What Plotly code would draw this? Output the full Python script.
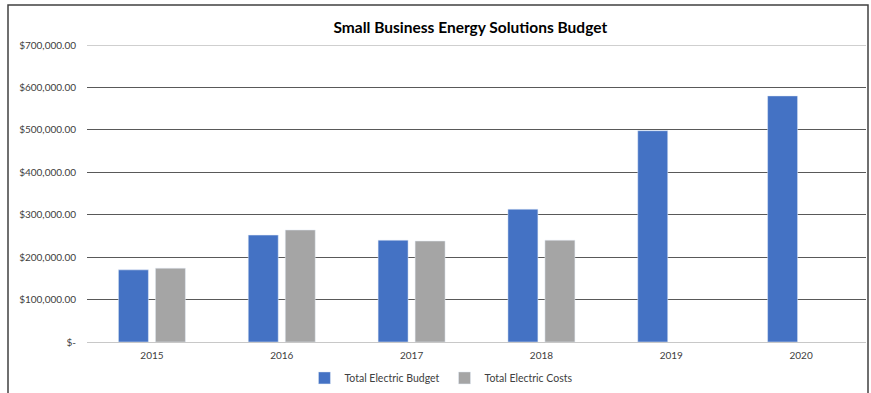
import plotly.graph_objects as go

years = ["2015", "2016", "2017", "2018", "2019", "2020"]
budget = [170000, 252000, 240000, 313000, 498000, 580000]
costs = [174000, 264000, 238000, 240000, None, None]
tick_vals = [0, 100000, 200000, 300000, 400000, 500000, 600000, 700000]
tick_text = ["$-", "$100,000.00", "$200,000.00", "$300,000.00", "$400,000.00",
             "$500,000.00", "$600,000.00", "$700,000.00"]

FONT = "Lato, 'Liberation Sans', sans-serif"

fig = go.Figure()
fig.add_trace(go.Bar(x=years, y=budget, name="Total Electric Budget",
                     marker=dict(color="#4472C4")))
fig.add_trace(go.Bar(x=years, y=costs, name="Total Electric Costs",
                     marker=dict(color="#A5A5A5")))

fig.update_layout(
    width=871, height=393,
    margin=dict(l=87, r=5, t=45, b=51, autoexpand=False),
    paper_bgcolor="white", plot_bgcolor="white",
    barmode="group", bargap=0.43, bargroupgap=0.19,
    font=dict(family=FONT, size=10, color="#404040"),
    title=dict(text="<b>Small Business Energy Solutions Budget</b>",
               x=0.54, xref="container", xanchor="center",
               y=0.931, yanchor="middle",
               font=dict(family=FONT, size=15.5, color="#000000")),
    showlegend=True,
    legend=dict(orientation="h", x=0.455, xanchor="center", y=-0.121, yanchor="middle",
                font=dict(family=FONT, size=10.5, color="#404040"),
                itemwidth=30, traceorder="normal"),
    xaxis=dict(showgrid=False, showline=False, ticks="", automargin=False,
               ticklabelstandoff=6,
               tickfont=dict(size=10, color="#404040")),
    yaxis=dict(range=[0, 700000], tickvals=tick_vals, ticktext=tick_text,
               showgrid=True, gridcolor="#595959", gridwidth=1,
               zeroline=True, zerolinecolor="#C8C8C8", zerolinewidth=1,
               showline=False, ticks="", ticklabelstandoff=10, automargin=False,
               tickfont=dict(size=10, color="#404040")),
)

# light top gridline
fig.add_shape(type="line", xref="paper", yref="y", x0=0, x1=1, y0=700000, y1=700000,
              line=dict(color="#BFBFBF", width=1.3), layer="above")
# chart border
fig.add_shape(type="rect", xref="paper", yref="paper",
              x0=(8 - 87) / 779, x1=(868 - 87) / 779,
              y0=-0.3, y1=(342 - 5) / 297,
              line=dict(color="#404040", width=1.5), fillcolor="rgba(0,0,0,0)", layer="above")

fig.write_html("out.html",
               config={"displayModeBar": False},
               post_script="document.body.style.margin='0';document.body.style.overflow='hidden';")
